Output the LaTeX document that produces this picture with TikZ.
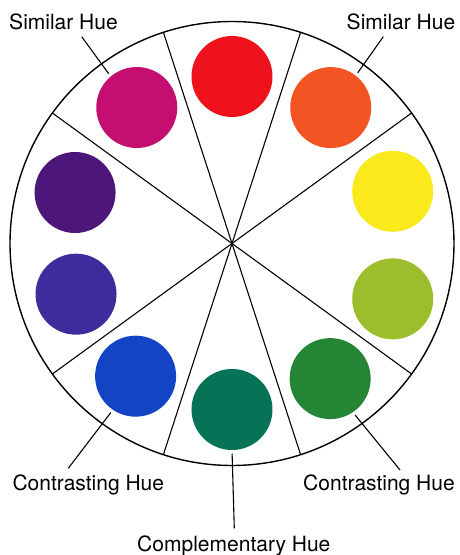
\documentclass[tikz,border=0pt]{standalone}
\usepackage{fontspec}
\setmainfont{TeX Gyre Heros}
\usetikzlibrary{positioning}

\definecolor{hueRed}{RGB}{238,18,28}
\definecolor{hueOrange}{RGB}{243,84,36}
\definecolor{hueYellow}{RGB}{250,234,28}
\definecolor{hueLime}{RGB}{156,190,44}
\definecolor{hueGreen}{RGB}{36,134,52}
\definecolor{hueTeal}{RGB}{6,114,86}
\definecolor{hueBlue}{RGB}{18,68,196}
\definecolor{hueIndigo}{RGB}{60,44,156}
\definecolor{huePurple}{RGB}{76,22,122}
\definecolor{hueMagenta}{RGB}{196,14,112}

\begin{document}
\begin{tikzpicture}[x=1pt, y=1pt,
			wheel/.style={draw, circle, line width=1.4pt, minimum size=444pt, inner sep=0pt, outer sep=0pt},
			dot/.style={circle, minimum size=81pt, inner sep=0pt, outer sep=0pt},
			huetext/.style={font=\fontsize{21}{25}\selectfont, anchor=base, inner sep=0pt},
			spoke/.style={line width=1.1pt},
			leader/.style={line width=1.1pt, shorten >=3.5pt}]
			
			\path[fill=white, use as bounding box] (-232,-311.5) rectangle (227,243.5);
			
			% 色轮
			\node[wheel] (wheel) at (0,0) {};
			\draw[spoke] (wheel.center) -- (wheel.36);
			\draw[spoke] (wheel.center) -- (wheel.72);
			\draw[spoke] (wheel.center) -- (wheel.108);
			\draw[spoke] (wheel.center) -- (wheel.144);
			\draw[spoke] (wheel.center) -- (wheel.216);
			\draw[spoke] (wheel.center) -- (wheel.252);
			\draw[spoke] (wheel.center) -- (wheel.288);
			\draw[spoke] (wheel.center) -- (wheel.324);
			
			% 色块
			\node[dot, fill=hueRed] (red) at (90:167) {};
			\node[dot, fill=hueOrange] (orange) at (54:168) {};
			\node[dot, fill=hueYellow] (yellow) at (18:169) {};
			\node[dot, fill=hueLime] (lime) at (-19:170) {};
			\node[dot, fill=hueGreen] (green) at (-54:167) {};
			\node[dot, fill=hueTeal] (teal) at (-90:166) {};
			\node[dot, fill=hueBlue] (blue) at (-126:164) {};
			\node[dot, fill=hueIndigo] (indigo) at (-162:164) {};
			\node[dot, fill=huePurple] (purple) at (162:165) {};
			\node[dot, fill=hueMagenta] (magenta) at (125:166) {};
			
			% 标注
			\node[huetext] (simL) at (-168.5,214.2) {Similar Hue};
			\node[huetext] (simR) at (169,214.2) {Similar Hue};
			\node[huetext] (conL) at (-143.7,-246.5) {Contrasting Hue};
			\node[huetext] (conR) at (147,-246.5) {Contrasting Hue};
			\node[huetext] (comp) at (1.8,-308.2) {Complementary Hue};
			
			\coordinate (simLend) at (-150.3,206.8);
			\coordinate (simRend) at (151.3,206.8);
			\coordinate (conLend) at (-163.7,-224.8);
			\coordinate (conRend) at (168,-226.5);
			\coordinate (compend) at (2.3,-284.8);
			
			\draw[leader] (simLend) -- (magenta.130);
			\draw[leader] (simRend) -- (orange.52);
			\draw[leader] (conLend) -- (blue.236);
			\draw[leader] (conRend) -- (green.304);
			\draw[leader] (compend) -- (teal.270);
			
		\end{tikzpicture}
\end{document}
